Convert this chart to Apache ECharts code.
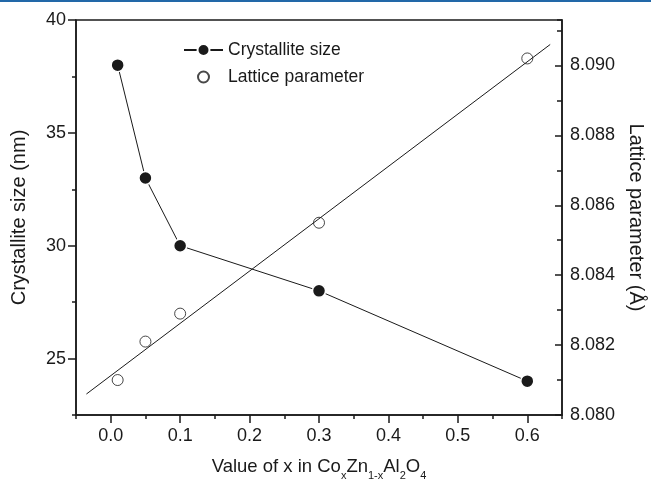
<!DOCTYPE html>
<html>
<head>
<meta charset="utf-8">
<script src="https://cdn.jsdelivr.net/npm/echarts@6/dist/echarts.min.js"></script>
<style>
  html, body { margin: 0; padding: 0; background: #fff; }
  #chart { width: 651px; height: 486px; }
</style>
</head>
<body>
<div id="chart"></div>
<script>
// Co content x in CoxZn1-xAl2O4
const xValues = [0.01, 0.05, 0.1, 0.3, 0.6];
// crystallite size, nm
const crystalliteSize = [38, 33, 30, 28, 24];
// lattice parameter, angstrom
const latticeParameter = [8.0810, 8.0821, 8.0829, 8.0855, 8.0902];
// end points of the linear fit through the lattice parameter
const fitX = [-0.035, 0.633];
const fitY = [8.0806, 8.0906];

// tick positions
const xMajorTicks = [0, 0.1, 0.2, 0.3, 0.4, 0.5, 0.6];
const leftMajorTicks = [25, 30, 35, 40];
const rightMajorTicks = [8.080, 8.082, 8.084, 8.086, 8.088, 8.090];

const SANS = "'Liberation Sans', Arial, Helvetica, sans-serif";
const INK = '#1a1a1a';
const TICK_FONT = 18;
const TEXT_FONT = 17.5;

const xRange = { min: -0.05, max: 0.65 };
const leftRange = { min: 22.5, max: 40 };
const rightRange = { min: 8.080, max: 8.0913 };

const chart = echarts.init(document.getElementById('chart'), null, { renderer: 'canvas' });

const zip = (xs, ys) => xs.map((x, i) => [x, ys[i]]);

const plainLine = { show: true, onZero: false, lineStyle: { color: INK, width: 1.5 } };
const noLine = { show: false, onZero: false };

const option = {
  backgroundColor: '#ffffff',
  animation: false,
  graphic: [{
    type: 'rect',
    left: 0, top: 0,
    shape: { width: 651, height: 2 },
    style: { fill: '#2268a8' }
  }],
  grid: {
    left: 76, right: 89, top: 20, bottom: 71,
    show: true, borderColor: INK, borderWidth: 1.5,
    outerBoundsMode: 'none'
  },
  legend: [{
    data: ['Crystallite size'],
    left: 183, top: 41, padding: 0,
    itemWidth: 39, itemHeight: 15,
    textStyle: { fontFamily: SANS, fontSize: TEXT_FONT, color: INK }
  }, {
    data: ['Lattice parameter'],
    left: 197, top: 68, padding: 0,
    itemWidth: 11, itemHeight: 11,
    textStyle: { fontFamily: SANS, fontSize: TEXT_FONT, color: INK, padding: [0, 0, 0, 14] }
  }],
  xAxis: [{
    type: 'value', position: 'bottom',
    min: xRange.min, max: xRange.max,
    name: '{m|Value of x in Co}{s|x}{m|Zn}{s|1-x}{m|Al}{s|2}{m|O}{s|4}',
    nameLocation: 'middle', nameGap: 42,
    nameTextStyle: {
      rich: {
        m: { fontFamily: SANS, fontSize: 18.5, color: INK, lineHeight: 20, verticalAlign: 'top' },
        s: { fontFamily: SANS, fontSize: 11, color: INK, lineHeight: 11, padding: [13, 0, 0, 0], verticalAlign: 'top' }
      }
    },
    splitLine: { show: false },
    axisLine: plainLine,
    axisTick: { show: true, inside: false, length: 8, customValues: xMajorTicks, lineStyle: { color: INK, width: 1.5 } },
    axisLabel: {
      customValues: xMajorTicks, margin: 12,
      fontFamily: SANS, fontSize: TICK_FONT, color: INK,
      formatter: v => v.toFixed(1)
    }
  }, {
    // minor ticks every 0.05
    type: 'value', position: 'bottom',
    min: xRange.min, max: xRange.max, interval: 0.05,
    splitLine: { show: false },
    axisLine: noLine,
    axisTick: { show: true, inside: false, length: 4, lineStyle: { color: INK, width: 1.5 } },
    axisLabel: { show: false }
  }],
  yAxis: [{
    type: 'value', position: 'left',
    min: leftRange.min, max: leftRange.max,
    name: 'Crystallite size (nm)',
    nameLocation: 'middle', nameGap: 47,
    nameTextStyle: { fontFamily: SANS, fontSize: 20, color: INK },
    splitLine: { show: false },
    axisLine: plainLine,
    axisTick: { show: true, inside: false, length: 8, customValues: leftMajorTicks, lineStyle: { color: INK, width: 1.5 } },
    axisLabel: {
      customValues: leftMajorTicks, margin: 10,
      fontFamily: SANS, fontSize: TICK_FONT, color: INK
    }
  }, {
    type: 'value', position: 'right',
    min: rightRange.min, max: rightRange.max,
    name: 'Lattice parameter (\u00C5)',
    nameLocation: 'middle', nameGap: 62, nameRotate: -90,
    nameTextStyle: { fontFamily: SANS, fontSize: 20, color: INK },
    splitLine: { show: false },
    axisLine: plainLine,
    axisTick: { show: true, inside: true, length: 7, customValues: rightMajorTicks, lineStyle: { color: INK, width: 1.5 } },
    axisLabel: {
      customValues: rightMajorTicks, margin: 8,
      fontFamily: SANS, fontSize: TICK_FONT, color: INK,
      formatter: v => v.toFixed(3)
    }
  }, {
    // minor ticks on the left axis
    type: 'value', position: 'left',
    min: leftRange.min, max: leftRange.max, interval: 2.5,
    splitLine: { show: false },
    axisLine: noLine,
    axisTick: { show: true, inside: false, length: 4, lineStyle: { color: INK, width: 1.5 } },
    axisLabel: { show: false }
  }, {
    // minor ticks on the right axis
    type: 'value', position: 'right',
    min: rightRange.min, max: rightRange.max, interval: 0.001,
    splitLine: { show: false },
    axisLine: noLine,
    axisTick: { show: true, inside: true, length: 5, lineStyle: { color: INK, width: 1.5 } },
    axisLabel: { show: false }
  }],
  series: [{
    name: 'Crystallite size',
    type: 'line',
    xAxisIndex: 0, yAxisIndex: 0,
    data: zip(xValues, crystalliteSize),
    symbol: 'circle', symbolSize: 13,
    itemStyle: { color: INK, borderColor: '#fff', borderWidth: 1.5 },
    lineStyle: { color: INK, width: 1 },
    z: 3
  }, {
    name: 'Lattice parameter',
    type: 'scatter',
    xAxisIndex: 0, yAxisIndex: 1,
    data: zip(xValues, latticeParameter),
    symbol: 'circle', symbolSize: 11,
    itemStyle: { color: 'rgba(255,255,255,0)', borderColor: INK, borderWidth: 1 },
    z: 3
  }, {
    name: 'fit',
    type: 'line',
    xAxisIndex: 0, yAxisIndex: 1,
    data: zip(fitX, fitY),
    symbol: 'none',
    lineStyle: { color: INK, width: 1 },
    silent: true,
    z: 2
  }]
};

chart.setOption(option);
</script>
</body>
</html>
